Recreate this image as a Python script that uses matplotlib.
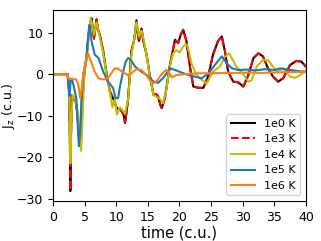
import matplotlib
matplotlib.use("Agg")
import matplotlib.pyplot as plt

# J_z traces, one (time, value) pair of lists per temperature
t_1e0 = [0, 2.3, 2.5, 2.65, 2.75, 2.85, 3.0, 3.2, 3.6, 3.9,
         4.1, 4.4, 4.6, 4.8, 5.05, 5.3, 5.6, 5.9, 6.1, 6.3,
         6.5, 6.7, 6.9, 7.1, 7.4, 7.95, 8.5, 9.0, 9.5, 10.1,
         10.5, 10.9, 11.2, 11.4, 11.6, 11.9, 12.4, 12.8, 13.0, 13.2,
         13.4, 13.6, 14.0, 14.3, 14.8, 15.3, 15.9, 16.3, 16.6, 17.0,
         17.2, 17.7, 18.5, 19.3, 19.8, 20.2, 20.6, 21.1, 21.7, 22.2,
         23.0, 23.8, 24.6, 25.3, 26.1, 26.7, 27.2, 27.7, 28.5, 29.3,
         30.1, 30.9, 31.7, 32.5, 33.2, 34.0, 34.8, 35.6, 36.4, 37.5,
         38.5, 39.3, 40.0]
j_1e0 = [0, 0, -2, -12, -28.2, -15, -5, -6, -6.5, -10,
         -15, -17, -10, -2.6, 1.4, 3.9, 9, 12.5, 13.5, 11,
         8.7, 11, 13, 11, 9.5, 5.5, -0.2, -4.1, -5.8, -8.2,
         -8.5, -9, -10, -11.8, -9.5, -5.8, 5.5, 8, 10, 13,
         10, 8, 11, 8, 4.7, -0.2, -5, -4.8, -5.3, -7.5,
         -8.2, -5.8, 2.2, 8.3, 7.5, 9.5, 10.7, 8, 1.4, -3,
         -3.3, -3.3, -0.2, 4.7, 8, 9.1, 5.5, 0.6, -1.8, -2,
         -3, -0.2, 3.9, 5, 4.3, 1.4, -0.6, -1.8, -1, 2.2,
         3.2, 3, 1.8]

t_1e3 = list(t_1e0)
j_1e3 = [0, 0, -2, -12, -28.0, -15, -5, -6, -6.5, -10,
         -15, -17.5, -10, -2.6, 1.4, 3.9, 9, 12.5, 13.2, 11,
         8.5, 11, 13.3, 11, 9.5, 5.5, -0.2, -4.1, -5.8, -8.2,
         -8.5, -9, -10, -11.8, -9.5, -5.8, 5.5, 8, 10, 13,
         10, 8, 11, 8, 4.7, -0.2, -5, -4.8, -5.3, -7.5,
         -8.2, -5.8, 2.2, 8.3, 7.5, 9.5, 10.7, 8, 1.4, -3,
         -3.3, -3.3, -0.2, 4.7, 8, 9.1, 5.5, 0.6, -1.8, -2,
         -3, -0.2, 3.9, 5, 4.3, 1.4, -0.6, -1.8, -1, 2.2,
         3.2, 3, 1.8]

t_1e4 = [0, 2.3, 2.5, 2.65, 2.75, 2.9, 3.1, 3.6, 3.9, 4.2,
         4.45, 4.7, 4.9, 5.1, 5.4, 5.7, 5.95, 6.2, 6.5, 6.9,
         7.4, 7.95, 8.5, 9.0, 9.4, 9.8, 10.1, 10.6, 10.9, 11.4,
         11.9, 12.4, 12.8, 13.2, 13.6, 14.0, 14.4, 14.8, 15.3, 15.9,
         16.4, 16.9, 17.4, 17.9, 18.5, 19.0, 19.5, 20.0, 20.5, 21.0,
         21.3, 21.9, 22.7, 23.2, 24.3, 25.3, 26.4, 27.2, 27.9, 29.0,
         29.8, 30.9, 31.4, 32.2, 33.2, 34.0, 34.8, 35.4, 36.4, 37.5,
         38.3, 39.0, 40.0]
j_1e4 = [0, 0, -2, -10, -21.5, -12, -5, -6.5, -9, -14,
         -18.5, -9, -2, 1.5, 4, 10, 13.5, 12, 9.5, 12.5,
         9, 5, -0.5, -4.5, -8, -6, -9.8, -8, -8.5, -9.5,
         -6, 4.5, 8, 12.5, 9, 10.5, 8, 4.5, -0.5, -5,
         -5.5, -6, -7, -4, 2, 5, 5.8, 5.2, 6.5, 7.3,
         6.8, 2.6, -0.2, -0.9, -2.3, 0.6, 1.8, 4.2, 5, 1.8,
         0.6, -1.8, -1.5, 1.8, 3.4, 3.4, 1.8, 0.6, 1.4, -0.6,
         -0.9, -0.3, 0.8]

t_1e5 = [0, 2.3, 2.45, 2.6, 2.8, 3.0, 3.3, 3.7, 3.9, 4.1,
         4.3, 4.5, 4.8, 5.0, 5.3, 5.55, 5.75, 5.9, 6.1, 6.6,
         7.2, 7.95, 8.7, 9.5, 9.9, 10.3, 10.6, 11.0, 11.5, 11.9,
         12.4, 13.0, 14.0, 15.1, 15.9, 16.6, 17.4, 18.5, 19.3, 20.3,
         21.4, 22.4, 23.5, 24.6, 25.6, 26.7, 27.5, 28.3, 29.3, 30.5,
         32.0, 33.5, 35.0, 35.9, 37.5, 39.0, 40.0]
j_1e5 = [0, 0, -3, -5.3, -1.5, -1.2, -3, -6, -12, -17.4,
         -14, -6, 0, 1.5, 3.9, 9, 11.9, 11, 8, 4.7,
         3.9, 0.6, -1.8, -3.3, -5.8, -5.8, -3, 0, 3, 3.9,
         3.2, 1.8, 0.6, -0.6, -1.8, -2.1, -1, 1.4, 1.0, 0.4,
         -0.2, -0.6, -1, 0.2, 2.2, 4.3, 2.6, 1.4, 1.0, 1.1,
         0.9, 1.2, 1.0, 1.4, 1.0, 0.7, 0.6]

t_1e6 = [0, 2.3, 2.4, 2.7, 3.2, 3.7, 4.0, 4.3, 4.6, 4.8,
         5.1, 5.3, 5.55, 5.8, 6.1, 6.6, 7.2, 7.95, 8.7, 9.5,
         9.8, 10.3, 11.0, 11.9, 12.5, 13.2, 14.0, 14.8, 15.4, 15.9,
         16.5, 17.2, 17.9, 18.3, 18.8, 19.5, 21, 23, 25, 27,
         29, 31, 33, 35, 37, 39, 40]
j_1e6 = [0, 0, -1, -1.1, -1.2, -1.3, -2.5, -5.8, -3, 0,
         2.5, 3.9, 5, 4, 2.7, 0.6, -1, -1.3, -1, 0.8,
         1.4, 1.3, 0.5, -0.3, 0.3, 1.2, 1.0, -0.3, -1.6, -2.2,
         -1.5, 0, 1.0, 0.4, -0.8, -0.2, 0, 0.2, 0.2, 0.3,
         0.3, 0.4, 0.3, 0.4, 0.5, 0.5, 0.5]

fig = plt.figure(figsize=(3.21, 2.41), dpi=100)
ax = fig.add_axes([0.165, 0.166, 0.788, 0.793])

ax.plot(t_1e0, j_1e0, color="k", lw=1.5, label="1e0 K")
ax.plot(t_1e3, j_1e3, "--", color="r", lw=1.5, label="1e3 K")
ax.plot(t_1e4, j_1e4, color="y", lw=1.5, label="1e4 K")
ax.plot(t_1e5, j_1e5, color="tab:blue", lw=1.5, label="1e5 K")
ax.plot(t_1e6, j_1e6, color="tab:orange", lw=1.5, label="1e6 K")

ax.set_xlim(0, 40)
ax.set_ylim(-30.6, 15.5)
ax.set_xticks([0, 5, 10, 15, 20, 25, 30, 35, 40])
ax.set_yticks([-30, -20, -10, 0, 10])
ax.tick_params(labelsize=9)
ax.set_xlabel("time (c.u.)", fontsize=10.5, labelpad=1)
ax.set_ylabel("$\\mathregular{J_z}$ (c.u.)", fontsize=9)
ax.yaxis.set_label_coords(-0.142, 0.5)
ax.legend(loc="lower right", fontsize=8, handlelength=2.2)

fig.savefig("out.png", dpi=100)
